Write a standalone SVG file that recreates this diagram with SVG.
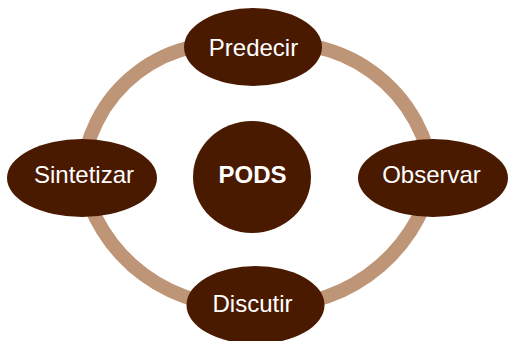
<svg xmlns="http://www.w3.org/2000/svg" width="508" height="341" viewBox="0 0 508 341">
<style>
.ring{fill:none;stroke:#BF9578;stroke-width:14}
.node{fill:#4A1A00}
.lbl{font-family:"Liberation Sans",Arial,sans-serif;font-size:24px;fill:#FFFFFF;text-anchor:middle}
.bold{font-weight:bold}
</style>
<rect width="508" height="341" fill="#FFFFFF"/>
<g id="connectors">
<path class="ring" d="M253,47 A141,141 0 0 0 82,178"/>
<path class="ring" d="M253,47 A149,149 0 0 1 433,178"/>
<path class="ring" d="M82,178 A160,160 0 0 0 255,305"/>
<path class="ring" d="M433,178 A165,165 0 0 1 255,305"/>
</g>
<g id="node-predecir">
<ellipse class="node" cx="253" cy="47" rx="69" ry="39"/>
<text class="lbl" x="253.5" y="56">Predecir</text>
</g>
<g id="node-sintetizar">
<ellipse class="node" cx="82" cy="178" rx="75" ry="39"/>
<text class="lbl" x="84" y="183">Sintetizar</text>
</g>
<g id="node-observar">
<ellipse class="node" cx="433" cy="178" rx="75" ry="39"/>
<text class="lbl" x="431.5" y="183">Observar</text>
</g>
<g id="node-discutir">
<ellipse class="node" cx="255.5" cy="305" rx="69" ry="39"/>
<text class="lbl" x="252.5" y="312">Discutir</text>
</g>
<g id="node-pods">
<ellipse class="node" cx="252" cy="177" rx="59" ry="56"/>
<text class="lbl bold" x="252.5" y="183">PODS</text>
</g>
</svg>
